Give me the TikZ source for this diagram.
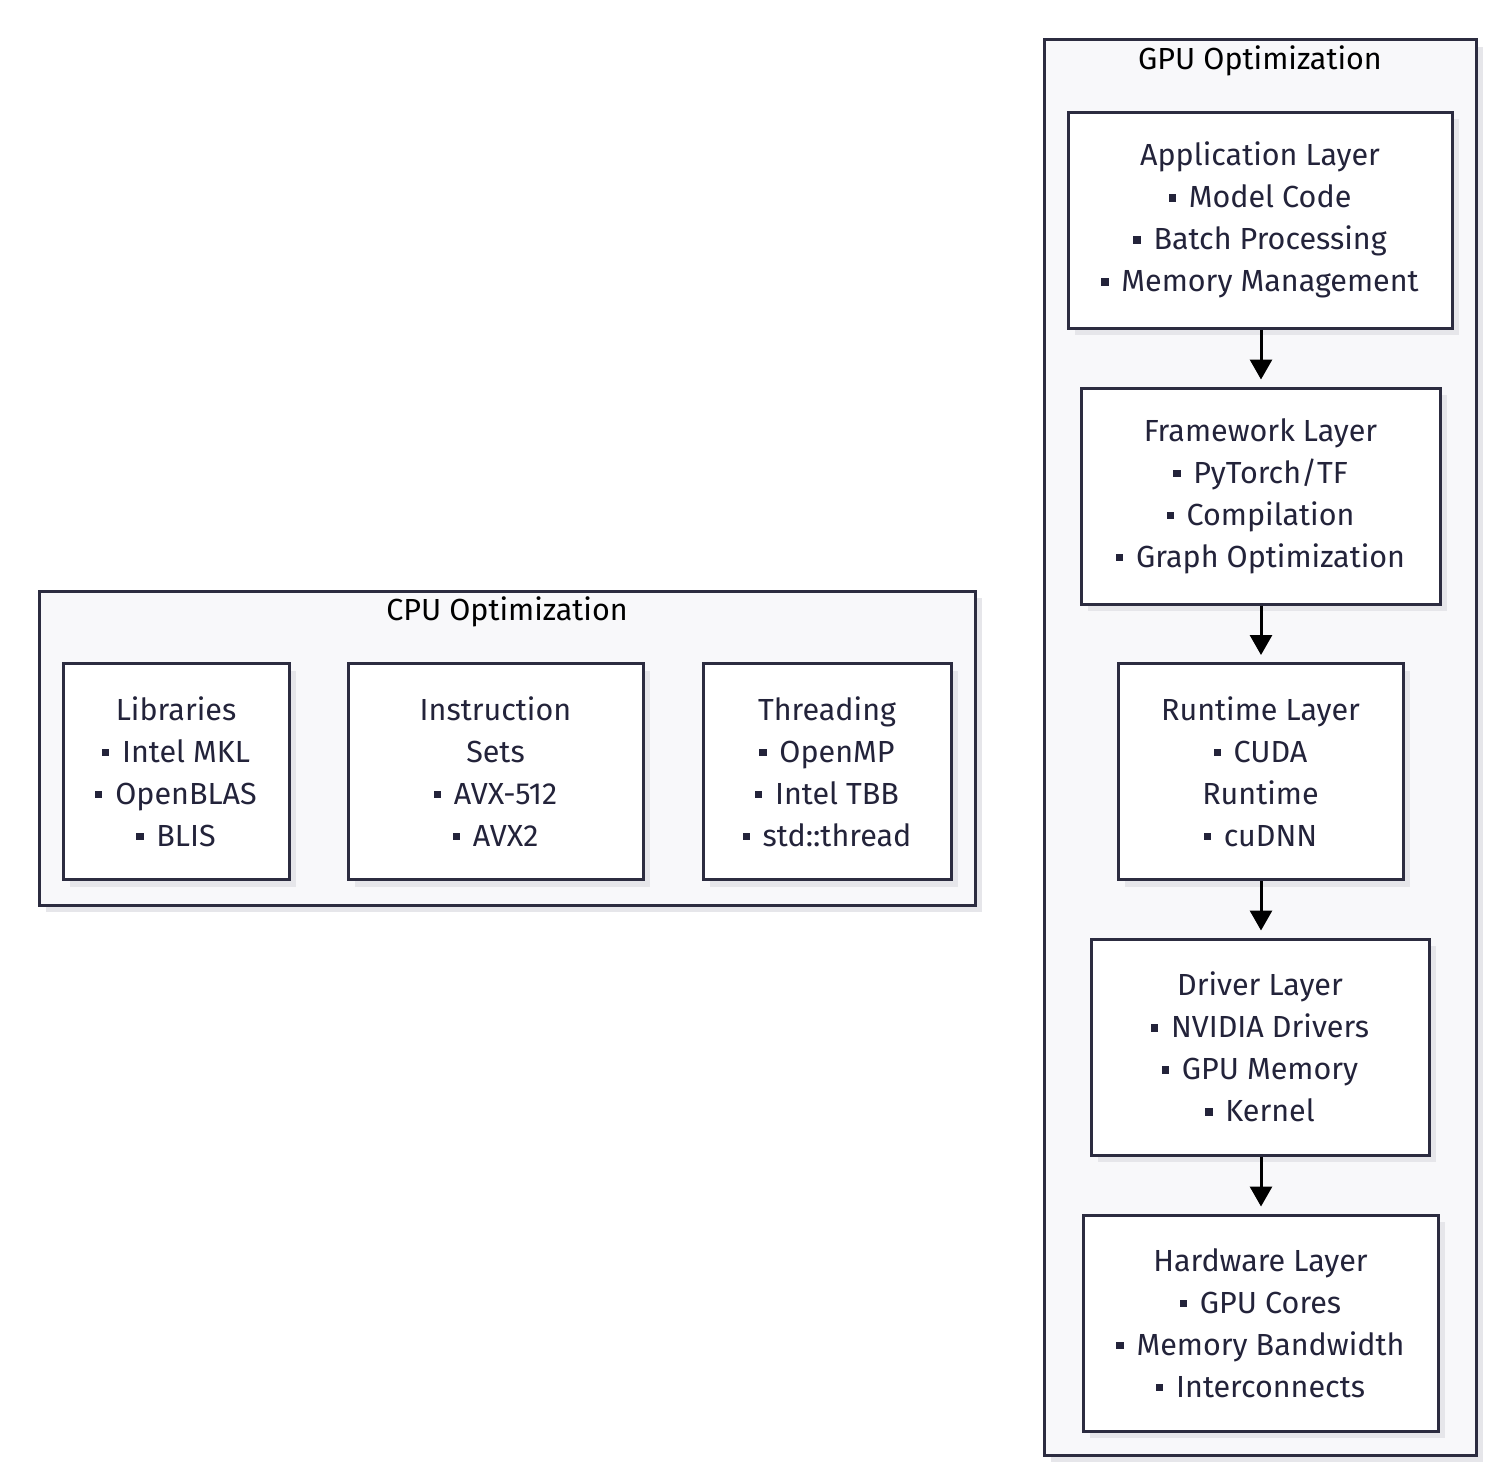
\documentclass[tikz,border=0pt]{standalone}
\usepackage{fontspec}
\setmainfont{Fira Sans}
\usetikzlibrary{arrows.meta,shadows}
\definecolor{txt}{HTML}{23233A}
\definecolor{edge}{HTML}{2C2C40}
\definecolor{clfill}{HTML}{F8F8FA}
\definecolor{shad}{HTML}{E6E6EA}
\newcommand{\bl}{\raisebox{0.2em}{\rule{0.24em}{0.24em}}\hspace{0.42em}}
\tikzset{
  txtfont/.style={font=\fontsize{30.5}{42}\selectfont},
  cluster/.style={draw=edge, line width=3pt, fill=clfill,
    general shadow={fill=shad, shadow xshift=7pt, shadow yshift=-7pt}},
  layerbox/.style={draw=edge, line width=3pt, fill=white, align=center, text=txt,
    txtfont, minimum height=216pt, inner sep=0pt,
    general shadow={fill=shad, shadow xshift=7pt, shadow yshift=-7pt}},
  cltitle/.style={txtfont, text=black},
  arr/.style={draw=black, line width=3pt, -{Triangle[width=22pt,length=20pt]}, shorten >=7pt}
}
\begin{document}
\begin{tikzpicture}[x=1pt,y=-1pt]
\useasboundingbox (0,0) rectangle (1492,1472);
% clusters
\draw[cluster] (1044,40) rectangle (1476,1455);
\node[cltitle] (gputitle) at (1260,61) {GPU Optimization};
\draw[cluster] (39,591) rectangle (975,905);
\node[cltitle] (cputitle) at (507,612) {CPU Optimization};
% GPU layers
\node[layerbox, minimum width=384pt] (app) at (1260,220)
  {Application Layer\\\bl Model Code\\\bl Batch Processing\\\bl Memory Management};
\node[layerbox, minimum width=359pt] (fw) at (1260.5,496)
  {Framework Layer\\\bl PyTorch/TF\\\bl Compilation\\\bl Graph Optimization};
\node[layerbox, minimum width=285pt] (rt) at (1260.5,771.5)
  {Runtime Layer\\\bl CUDA\\Runtime\\\bl cuDNN};
\node[layerbox, minimum width=338pt] (drv) at (1260,1047)
  {Driver Layer\\\bl NVIDIA Drivers\\\bl GPU Memory\\\bl Kernel};
\node[layerbox, minimum width=355pt] (hw) at (1260.5,1323)
  {Hardware Layer\\\bl GPU Cores\\\bl Memory Bandwidth\\\bl Interconnects};
% CPU boxes
\node[layerbox, minimum width=226pt] (lib) at (176,771.5)
  {Libraries\\\bl Intel MKL\\\bl OpenBLAS\\\bl BLIS};
\node[layerbox, minimum width=295pt] (isa) at (495.5,771.5)
  {Instruction\\Sets\\\bl AVX-512\\\bl AVX2};
\node[layerbox, minimum width=248pt] (thr) at (827,771.5)
  {Threading\\\bl OpenMP\\\bl Intel TBB\\\bl std::thread};
% arrows
\draw[arr] (app.south -| 1261,0) -- (fw.north -| 1261,0);
\draw[arr] (fw.south -| 1261,0) -- (rt.north -| 1261,0);
\draw[arr] (rt.south -| 1261,0) -- (drv.north -| 1261,0);
\draw[arr] (drv.south -| 1261,0) -- (hw.north -| 1261,0);
\end{tikzpicture}
\end{document}
